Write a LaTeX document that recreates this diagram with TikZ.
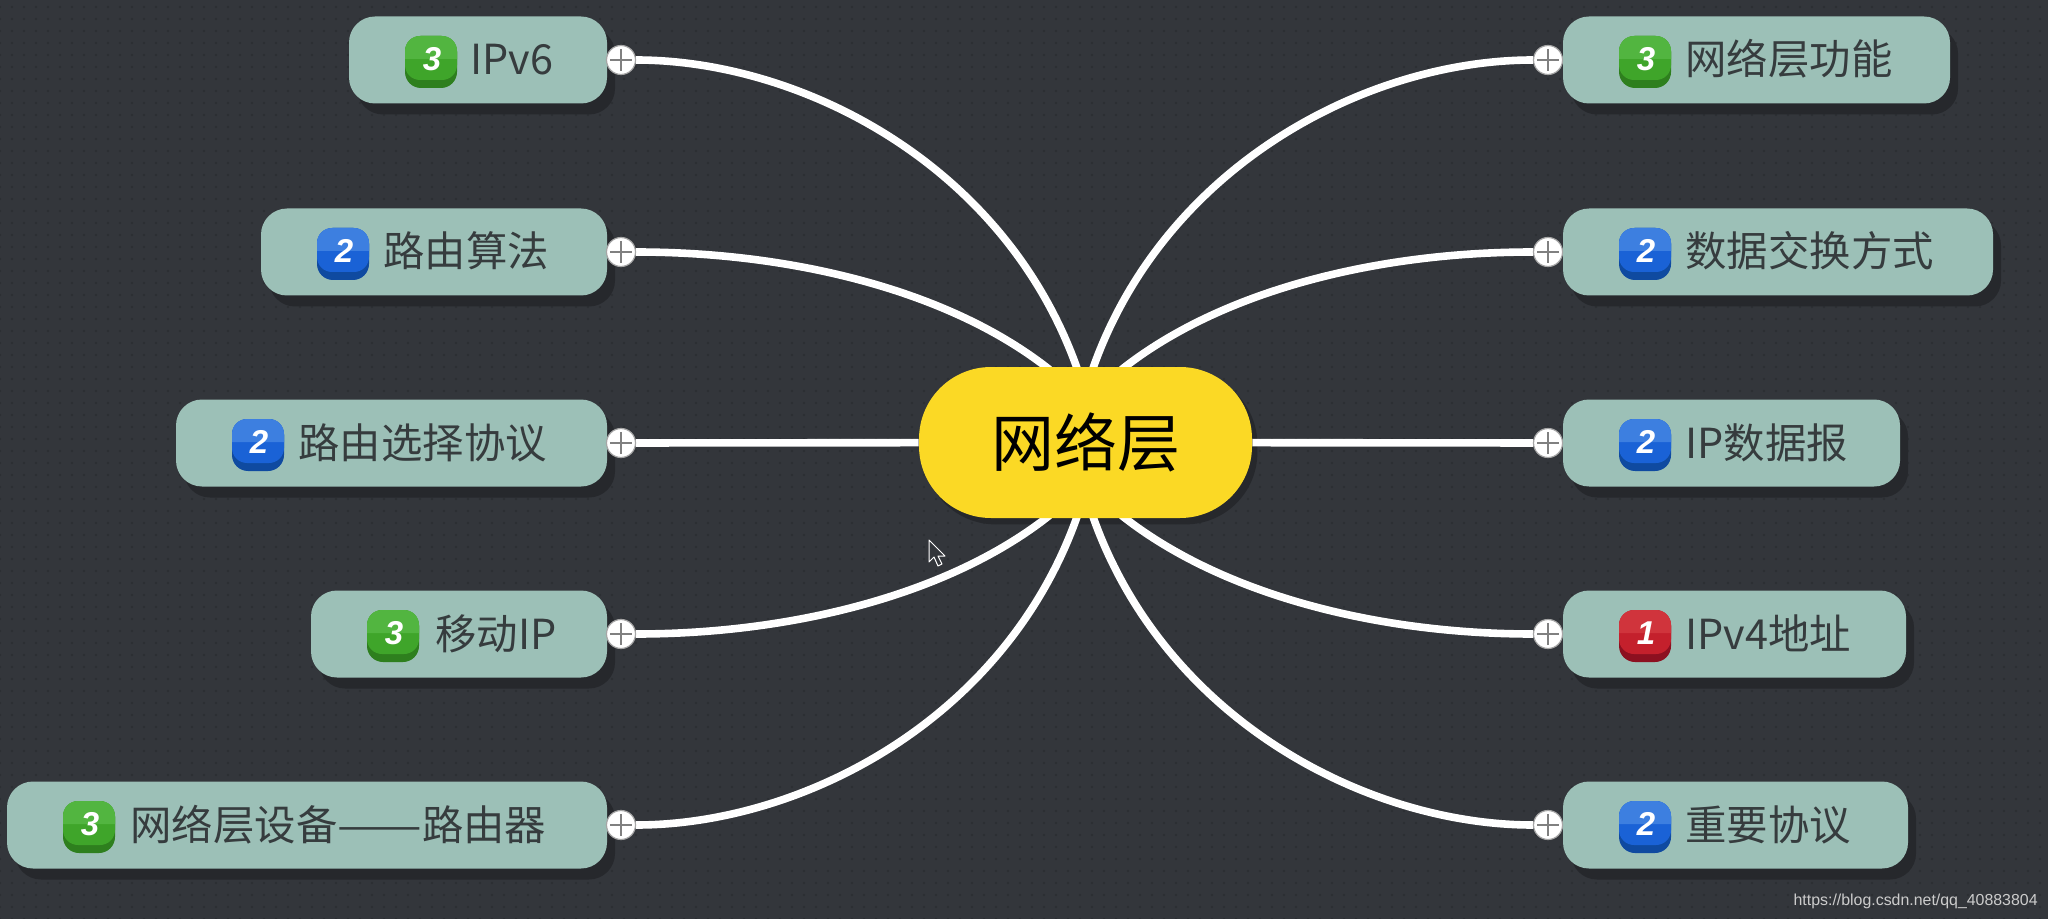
\documentclass[tikz,border=0pt]{standalone}
\usepackage{fontspec}
\usepackage{graphicx}
\setmainfont{Noto Sans CJK SC}
\newfontfamily\wmfont{Liberation Sans}
\usetikzlibrary{calc,shadows,patterns.meta}
\pgfdeclarelayer{bgl}\pgfdeclarelayer{linkl}\pgfsetlayers{bgl,linkl,main}
\definecolor{bgc}{HTML}{33363B}
\definecolor{dotc}{HTML}{2A2D31}
\definecolor{shc}{HTML}{26282C}
\definecolor{boxc}{HTML}{9CC0B7}
\definecolor{txtc}{HTML}{363C3E}
\definecolor{yel}{HTML}{FBD925}
\definecolor{gT}{HTML}{52B540}\definecolor{gM}{HTML}{3FA52A}\definecolor{gD}{HTML}{2E7F1E}
\definecolor{bT}{HTML}{3D7FE0}\definecolor{bM}{HTML}{1A62D6}\definecolor{bD}{HTML}{0F4AA0}
\definecolor{rT}{HTML}{D0343C}\definecolor{rM}{HTML}{C4202C}\definecolor{rD}{HTML}{8C1020}
\tikzset{
 topicbox/.style={rounded corners=13pt,fill=boxc,inner sep=0pt,minimum height=43.5pt,
   general shadow={fill=shc,shadow xshift=4pt,shadow yshift=-5.5pt}},
 badgebox/.style={rounded corners=8pt,inner sep=0pt,minimum size=26pt},
 digitlab/.style={font=\fontsize{16.5}{16}\wmfont\bfseries\itshape,text=white,inner sep=0pt},
 topiclab/.style={font=\fontsize{20.7}{24}\selectfont,text=txtc,inner sep=0pt,anchor=base west},
 plusbtn/.style={circle,draw=black!35,line width=.6pt,fill=white,inner sep=0pt,minimum size=14.5pt,
   path picture={\draw[black!50,line width=.9pt]
     (path picture bounding box.center)+(-5.5pt,0)--+(5.5pt,0)
     (path picture bounding box.center)+(0,-5.5pt)--+(0,5.5pt);}},
 centerbox/.style={rounded corners=36pt,fill=yel,inner sep=0pt,
   minimum width=166.5pt,minimum height=75.5pt,text=black,font=\fontsize{31.5}{34}\selectfont},
 linkw/.style={white,line width=3.8pt},
}
% name, left, right, y, badge centre x, digit, colour, text x, text
\newcommand{\topic}[9]{%
 \node[topicbox,minimum width={(#3-#2)*0.5pt}] (#1) at ({(#2+#3)/2},#4) {};
 \node[badgebox,fill=#7D] (#1b) at (#5,#4+2) {};
 \fill[#7M,rounded corners=7.5pt] (#5-26,#4-24) rectangle (#5+26,#4+20);
 \fill[#7T] (#5-26,#4-1) [rounded corners=7.5pt] -- (#5-26,#4-24) -- (#5+26,#4-24) [sharp corners] -- (#5+26,#4-1) -- cycle;
 \node[digitlab] (#1d) at (#5+1,#4-1) {#6};
 \node[topiclab] (#1t) at (#8,#4+15) {#9};
}
\begin{document}
\begin{tikzpicture}[x=0.5pt,y=-0.5pt]
\useasboundingbox (0,0) rectangle (2048,919);
\node[centerbox] (c) at (1085.5,442.5) {\raisebox{-1.5pt}{网络层}};
\begin{pgfonlayer}{bgl}
 \fill[bgc] (0,0) rectangle (2048,919);
 \fill[pattern={Dots[radius=.55pt,distance=6pt]},pattern color=dotc] (0,0) rectangle (2048,919);
 \fill[shc,rounded corners=36pt] ($(c.south west)+(5,6)$) rectangle ($(c.north east)+(5,6)$);
\end{pgfonlayer}

\topic{L1}{349}{607}{60}{431}{3}{g}{470}{IPv6}
\topic{L2}{261}{607}{252}{343}{2}{b}{383}{路由算法}
\topic{L3}{176}{607}{443}{258}{2}{b}{298}{路由选择协议}
\topic{L4}{311}{607}{634}{393}{3}{g}{435}{移动IP}
\topic{L5}{7}{607}{825}{89}{3}{g}{130}{网络层设备\scalebox{1.22}[1]{——}路由器}
\topic{R1}{1563}{1950}{60}{1645}{3}{g}{1685}{网络层功能}
\topic{R2}{1563}{1993}{252}{1645}{2}{b}{1685}{数据交换方式}
\topic{R3}{1563}{1900}{443}{1645}{2}{b}{1685}{IP数据报}
\topic{R4}{1563}{1906}{634}{1645}{1}{r}{1685}{IPv4地址}
\topic{R5}{1563}{1908}{825}{1645}{2}{b}{1685}{重要协议}

\foreach \n/\yy in {1/60,2/252,3/443,4/634,5/825}{
 \node[plusbtn] (pL\n) at (621,\yy) {};
 \node[plusbtn] (pR\n) at (1548,\yy) {};
}

\coordinate (t1) at ($(c.north)+(-8,3)$);
\coordinate (t2) at ($(c.north)+(-36,3)$);
\coordinate (t3) at ($(c.north)+(7,3)$);
\coordinate (t4) at ($(c.north)+(36,3)$);
\coordinate (b1) at ($(c.south)+(-8,-3)$);
\coordinate (b2) at ($(c.south)+(-36,-3)$);
\coordinate (b3) at ($(c.south)+(7,-3)$);
\coordinate (b4) at ($(c.south)+(36,-3)$);

\begin{pgfonlayer}{linkl}
 \draw[linkw] (pL1) .. controls +(180,0) and +(-72,-205) .. (t1);
 \draw[linkw] (pL2) .. controls +(169,0) and +(-101,-80) .. (t2);
 \draw[linkw] (pL3) -- (c);
 \draw[linkw] (pL4) .. controls +(169,0) and +(-101,80) .. (b2);
 \draw[linkw] (pL5) .. controls +(180,0) and +(-72,205) .. (b1);
 \draw[linkw] (pR1) .. controls +(-180,0) and +(72,-205) .. (t3);
 \draw[linkw] (pR2) .. controls +(-169,0) and +(101,-80) .. (t4);
 \draw[linkw] (pR3) -- (c);
 \draw[linkw] (pR4) .. controls +(-169,0) and +(101,80) .. (b4);
 \draw[linkw] (pR5) .. controls +(-180,0) and +(72,205) .. (b3);
\end{pgfonlayer}

% mouse cursor
\filldraw[fill=bgc,draw=white,line width=.5pt,line join=round]
 (929,540) -- (929,562) -- (934,557) -- (938,566) -- (942,564) -- (938,556) -- (945,556) -- cycle;

\node[font=\fontsize{7.95}{9}\wmfont,text=white!80!black,inner sep=0pt,anchor=base east] (wm) at (2038,905) {https://blog.csdn.net/qq\_40883804};
\end{tikzpicture}
\end{document}
